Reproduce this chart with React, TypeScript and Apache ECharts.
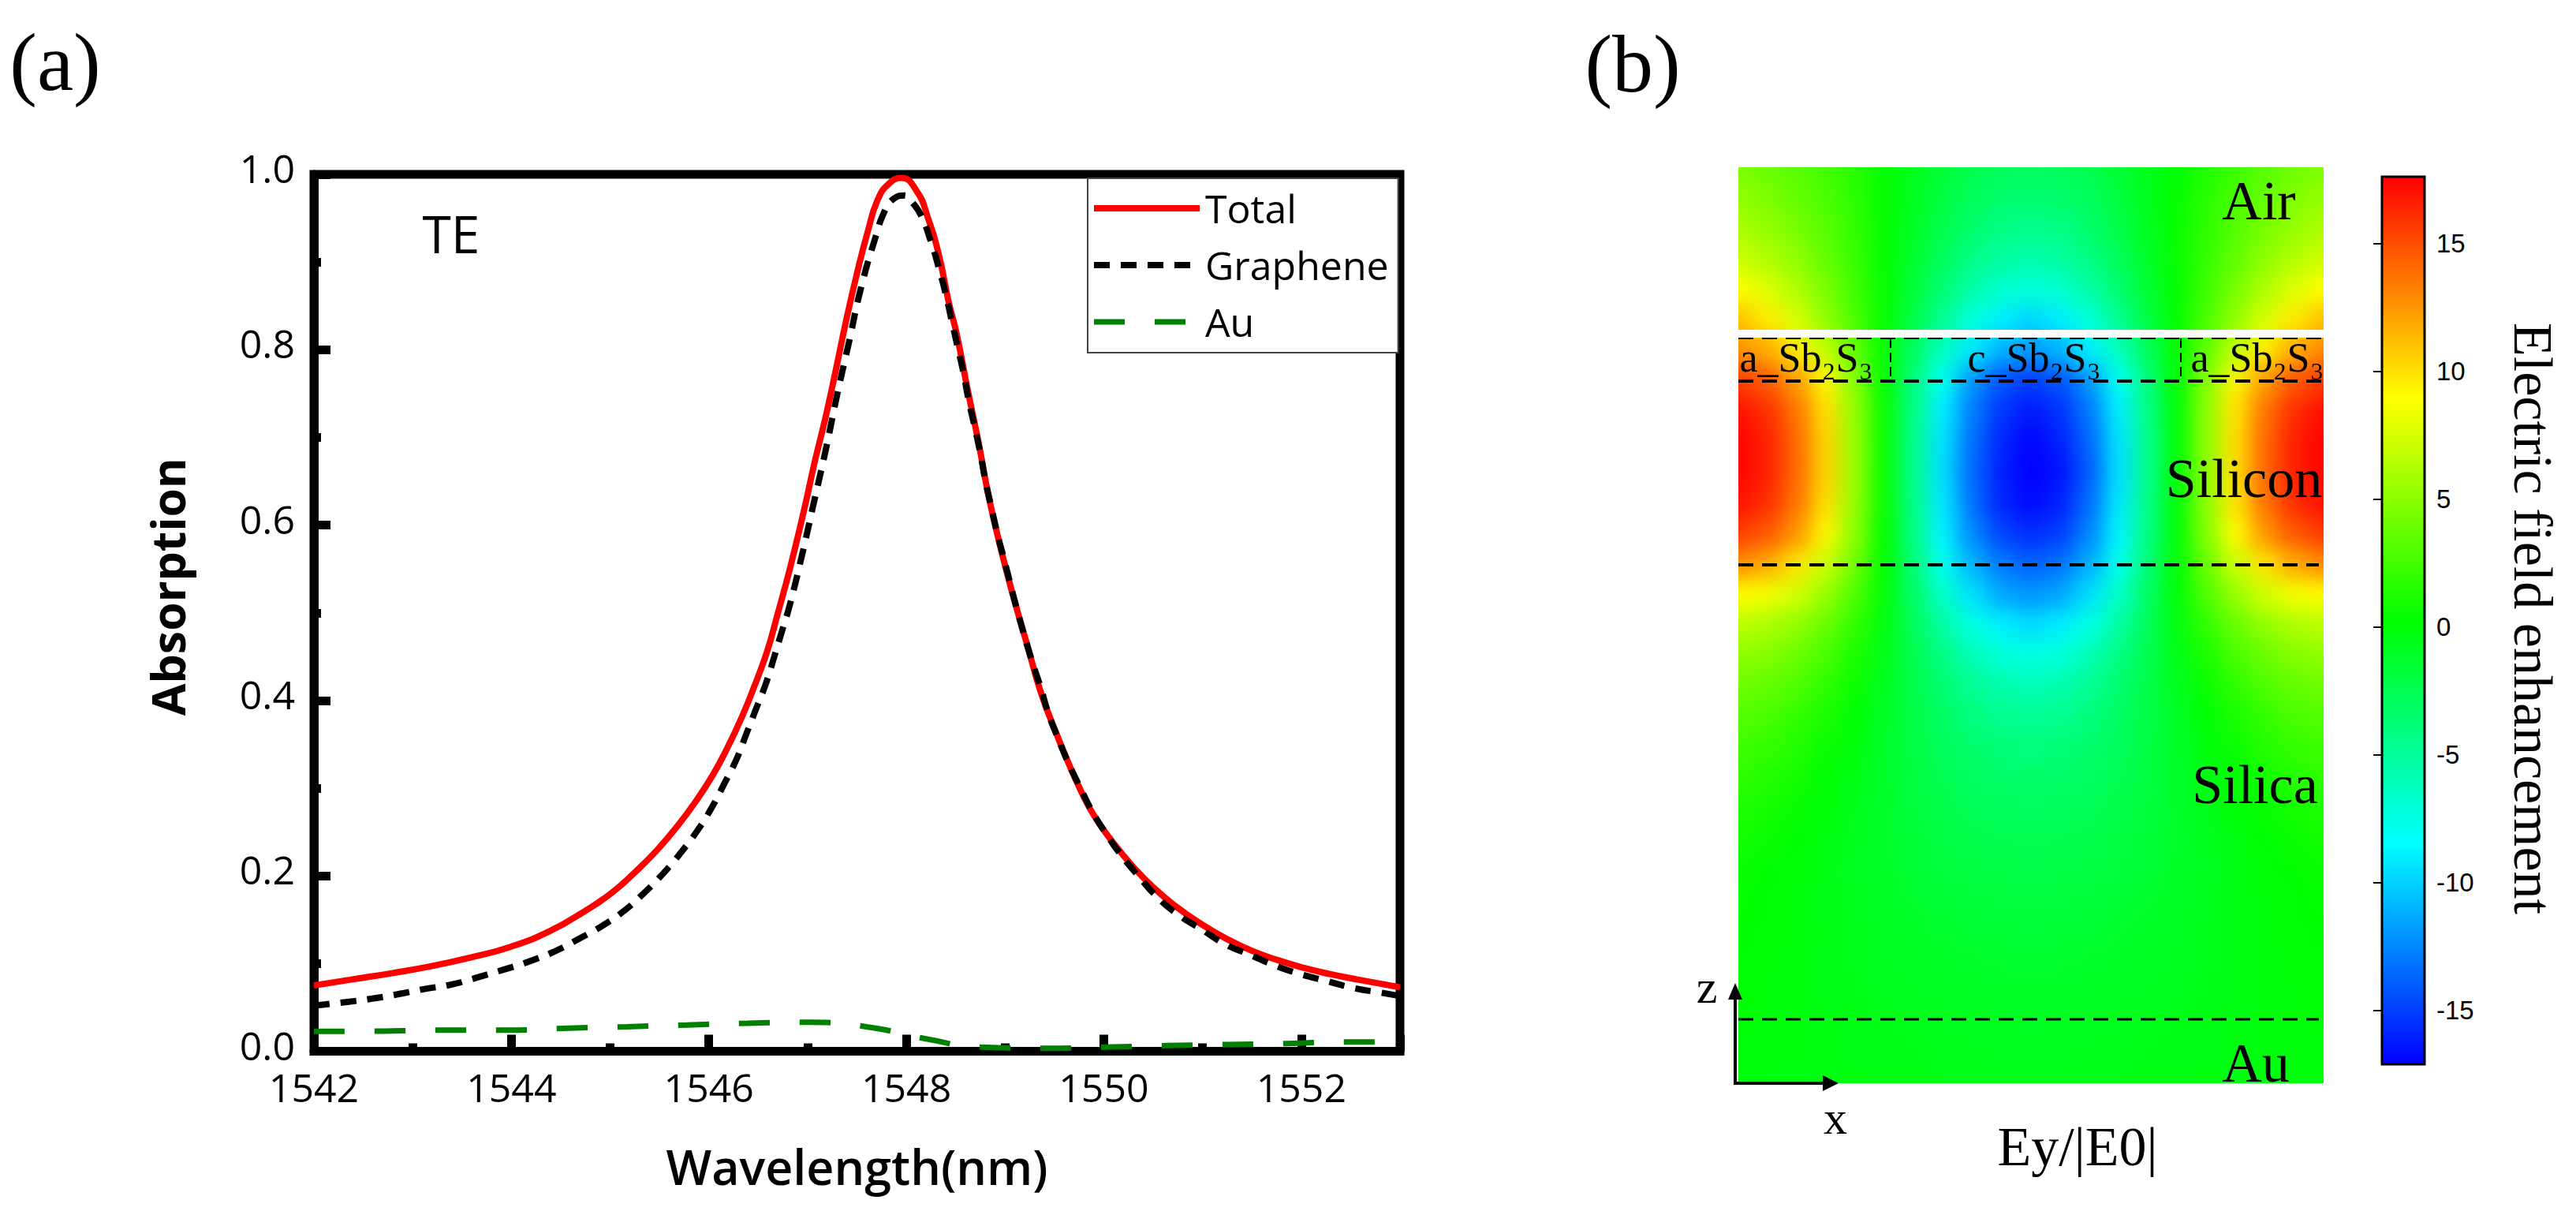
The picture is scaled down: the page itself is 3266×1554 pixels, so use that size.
import { useEffect, useRef } from "react";
import * as echarts from "echarts";

const totalNm = [
  1542, 1542.39, 1542.79, 1543.19, 1543.59, 1543.99, 1544.39, 1544.76, 1545.02, 1545.26, 1545.48,
  1545.69, 1545.88, 1546.04, 1546.17, 1546.33, 1546.46, 1546.59, 1546.7, 1546.82, 1546.97, 1547.07,
  1547.18, 1547.29, 1547.39, 1547.5, 1547.61, 1547.71, 1547.82, 1547.95, 1548.11, 1548.22, 1548.33,
  1548.43, 1548.51, 1548.62, 1548.73, 1548.83, 1548.94, 1549.03, 1549.13, 1549.23, 1549.36, 1549.5,
  1549.63, 1549.76, 1549.9, 1550.08, 1550.3, 1550.51, 1550.72, 1550.96, 1551.23, 1551.49, 1551.76,
  1552.03, 1552.29, 1552.56, 1553,
];
const totalAbs = [
  0.075, 0.082, 0.089, 0.097, 0.107, 0.119, 0.137, 0.161, 0.181, 0.205, 0.23,
  0.258, 0.287, 0.315, 0.342, 0.38, 0.416, 0.456, 0.5, 0.55, 0.62, 0.671,
  0.722, 0.779, 0.833, 0.887, 0.935, 0.971, 0.989, 0.996, 0.98, 0.95, 0.908,
  0.854, 0.818, 0.755, 0.695, 0.635, 0.581, 0.541, 0.5, 0.461, 0.41, 0.368,
  0.332, 0.299, 0.269, 0.24, 0.21, 0.186, 0.166, 0.147, 0.129, 0.115, 0.104,
  0.095, 0.088, 0.082, 0.073,
];
const grapheneNm = [
  1542, 1542.32, 1542.59, 1542.85, 1543.12, 1543.39, 1543.65, 1543.92, 1544.17, 1544.44, 1544.68,
  1544.92, 1545.14, 1545.34, 1545.54, 1545.72, 1545.88, 1546.03, 1546.16, 1546.28, 1546.38, 1546.48,
  1546.58, 1546.66, 1546.74, 1546.82, 1546.95, 1547.07, 1547.19, 1547.3, 1547.42, 1547.54, 1547.69,
  1547.78, 1547.87, 1547.98, 1548.06, 1548.15, 1548.25, 1548.33, 1548.4, 1548.46, 1548.52, 1548.58,
  1548.63, 1548.69, 1548.75, 1548.8, 1548.86, 1548.92, 1548.99, 1549.13, 1549.27, 1549.36, 1549.44,
  1549.54, 1549.64, 1549.76, 1549.88, 1550.03, 1550.18, 1550.35, 1550.54, 1550.75, 1550.99, 1551.23,
  1551.48, 1551.73, 1551.99, 1552.26, 1552.53, 1552.8, 1553,
];
const grapheneAbs = [
  0.052, 0.056, 0.06, 0.065, 0.071, 0.076, 0.084, 0.093, 0.102, 0.114, 0.128,
  0.143, 0.16, 0.18, 0.203, 0.227, 0.251, 0.278, 0.306, 0.333, 0.362, 0.391,
  0.42, 0.449, 0.479, 0.509, 0.569, 0.629, 0.689, 0.749, 0.809, 0.87, 0.929,
  0.958, 0.972, 0.976, 0.968, 0.953, 0.923, 0.893, 0.863, 0.833, 0.803, 0.773,
  0.743, 0.713, 0.682, 0.651, 0.621, 0.591, 0.561, 0.5, 0.446, 0.415, 0.385,
  0.356, 0.329, 0.301, 0.274, 0.247, 0.223, 0.2, 0.176, 0.156, 0.139, 0.122,
  0.11, 0.098, 0.088, 0.08, 0.072, 0.067, 0.063,
];
const auNm = [
  1542, 1542.7, 1543.35, 1543.96, 1544.58, 1545.17, 1545.78, 1546.39, 1547.02, 1547.61, 1548.2,
  1548.75, 1549.42, 1550.01, 1550.64, 1551.26, 1551.86, 1552.46, 1553,
];
const auAbs = [
  0.0227, 0.023, 0.0241, 0.0241, 0.0263, 0.028, 0.03, 0.032, 0.033, 0.0277, 0.0142,
  0.0047, 0.0034, 0.0047, 0.0065, 0.0077, 0.0088, 0.0106, 0.0103,
];

const xTicks = [1542, 1544, 1546, 1548, 1550, 1552];
const colorbarTicks = [-15, -10, -5, 0, 5, 10, 15];
const rainbow = ["#0000ff", "#00ffff", "#00ff00", "#ffff00", "#ff0000"];
const fieldMin = -17.1;
const fieldMax = 17.6;

// Ey/|E0|, top row first, left column first
const fieldRows = [
  [4.5, 3.9, 3.2, 2.5, 1.5, 0.4, -0.7, -1.6, -2.3, -2.8, -3, -2.8, -2.3, -1.5, -0.6, 0.3, 1.3, 2.3, 3.2, 4, 4.6],
  [5.2, 4.5, 3.7, 2.8, 1.7, 0.4, -0.8, -1.9, -2.8, -3.4, -3.6, -3.4, -2.8, -1.9, -0.7, 0.4, 1.6, 2.7, 3.7, 4.6, 5.3],
  [6, 5.3, 4.3, 3.2, 1.9, 0.4, -1, -2.3, -3.4, -4.2, -4.5, -4.2, -3.4, -2.2, -0.8, 0.5, 1.8, 3.1, 4.3, 5.3, 6.1],
  [7.2, 6.3, 5.1, 3.7, 2.1, 0.4, -1.3, -2.9, -4.3, -5.2, -5.6, -5.2, -4.2, -2.8, -1.1, 0.5, 2, 3.6, 5, 6.3, 7.3],
  [8.8, 7.8, 6.2, 4.4, 2.4, 0.4, -1.7, -3.7, -5.5, -6.7, -7.2, -6.7, -5.4, -3.6, -1.5, 0.4, 2.4, 4.3, 6.2, 7.8, 8.9],
  [11, 9.6, 7.6, 5.2, 2.8, 0.4, -2.2, -4.8, -7.2, -9, -9.8, -9, -7.1, -4.7, -2, 0.4, 2.8, 5.2, 7.6, 9.6, 11.1],
  [12.8, 11.8, 9.5, 6.8, 3.5, 0.4, -3, -6.3, -9.2, -11, -12, -11, -9, -6.2, -2.9, 0.3, 3.5, 6.8, 9.5, 11.8, 12.9],
  [15.5, 14.5, 12.3, 9.2, 4.8, 0.4, -4, -8, -12, -14.3, -15, -14.3, -12, -8.2, -4, 0.2, 4.7, 9.2, 12.3, 14.6, 15.6],
  [17, 16, 13.6, 10, 5.2, 0.5, -4.3, -9, -12.8, -15.2, -16.3, -15.4, -13, -9, -4.3, 0, 5, 9.8, 13.6, 16, 17.1],
  [17.5, 16.5, 14, 10.4, 5.4, 0.5, -4.5, -9.4, -13.3, -15.8, -17, -16, -13.6, -9.4, -4.5, 0, 5, 10, 14, 16.5, 17.5],
  [17.5, 16.5, 14, 10.5, 5.5, 0.5, -4.5, -9.5, -13.5, -16, -17.2, -16.5, -14, -9.5, -4.5, 0, 5, 10, 14, 16.5, 17.5],
  [17, 16, 13.6, 10, 5.3, 0.5, -4.4, -9.2, -13.2, -15.8, -16.8, -16, -13.4, -9.2, -4.4, 0, 5, 9.8, 13.6, 16, 17],
  [15.5, 14.6, 12.5, 9.2, 4.9, 0.4, -4.2, -8.8, -12.4, -14.8, -15.6, -15, -12.6, -8.8, -4.2, 0, 4.7, 9, 12.5, 14.6, 15.6],
  [12.8, 11.8, 9.8, 7.2, 4, 0.3, -3.8, -7.8, -11, -13, -13.8, -13.2, -11.2, -7.8, -3.8, 0, 3.8, 7.2, 9.9, 11.8, 12.9],
  [9, 8.5, 7.4, 5.4, 2.9, 0, -3.2, -6.6, -9.4, -11.4, -12, -11.5, -9.5, -6.6, -3.2, 0, 2.9, 5.4, 7.4, 8.5, 9],
  [6.6, 6.1, 5.2, 3.8, 1.9, -0.2, -2.8, -5.3, -7.4, -8.9, -9.6, -9, -7.5, -5.3, -2.8, -0.2, 1.9, 3.8, 5.2, 6.1, 6.6],
  [5.1, 4.7, 3.9, 2.7, 1.1, -0.5, -2.4, -4.2, -5.9, -7, -7.5, -7.1, -5.9, -4.2, -2.4, -0.5, 1.1, 2.7, 3.9, 4.7, 5.1],
  [4, 3.6, 2.9, 1.8, 0.6, -0.8, -2.2, -3.6, -4.8, -5.6, -5.9, -5.6, -4.8, -3.6, -2.2, -0.8, 0.6, 1.8, 2.9, 3.6, 4],
  [3.1, 2.7, 2, 1.1, 0.1, -1, -2.1, -3.1, -4, -4.6, -4.8, -4.6, -4, -3.1, -2.1, -1, 0.1, 1.1, 2, 2.7, 3.1],
  [2.4, 2, 1.4, 0.6, -0.2, -1.1, -2, -2.8, -3.4, -3.8, -4, -3.8, -3.4, -2.8, -2, -1.1, -0.2, 0.6, 1.4, 2, 2.4],
  [1.8, 1.4, 0.9, 0.2, -0.5, -1.2, -1.9, -2.5, -3, -3.3, -3.4, -3.3, -3, -2.5, -1.9, -1.2, -0.5, 0.2, 0.9, 1.4, 1.8],
  [1.3, 1, 0.5, 0, -0.6, -1.2, -1.8, -2.2, -2.6, -2.8, -2.9, -2.8, -2.6, -2.2, -1.8, -1.2, -0.6, 0, 0.5, 1, 1.3],
  [0.9, 0.6, 0.2, -0.3, -0.7, -1.2, -1.6, -2, -2.3, -2.4, -2.5, -2.4, -2.3, -2, -1.6, -1.2, -0.7, -0.3, 0.2, 0.6, 0.9],
  [0.6, 0.3, 0, -0.4, -0.8, -1.1, -1.5, -1.8, -2, -2.1, -2.2, -2.1, -2, -1.8, -1.5, -1.1, -0.8, -0.4, 0, 0.3, 0.6],
  [0.4, 0.2, -0.1, -0.4, -0.7, -1, -1.3, -1.5, -1.7, -1.8, -1.9, -1.8, -1.7, -1.5, -1.3, -1, -0.7, -0.4, -0.1, 0.2, 0.4],
  [0.3, 0.1, -0.1, -0.4, -0.6, -0.9, -1.1, -1.3, -1.4, -1.5, -1.6, -1.5, -1.4, -1.3, -1.1, -0.9, -0.6, -0.4, -0.1, 0.1, 0.3],
  [0.2, 0, -0.2, -0.4, -0.6, -0.8, -0.9, -1.1, -1.2, -1.3, -1.3, -1.3, -1.2, -1.1, -0.9, -0.8, -0.6, -0.4, -0.2, 0, 0.2],
  [0.1, -0.1, -0.2, -0.4, -0.5, -0.7, -0.8, -0.9, -1, -1.1, -1.1, -1.1, -1, -0.9, -0.8, -0.7, -0.5, -0.4, -0.2, -0.1, 0.1],
  [0, -0.1, -0.2, -0.3, -0.4, -0.5, -0.6, -0.7, -0.8, -0.8, -0.9, -0.8, -0.8, -0.7, -0.6, -0.5, -0.4, -0.3, -0.2, -0.1, 0],
  [-0.1, -0.2, -0.2, -0.3, -0.4, -0.4, -0.5, -0.6, -0.6, -0.7, -0.7, -0.7, -0.6, -0.6, -0.5, -0.4, -0.4, -0.3, -0.2, -0.2, -0.1],
  [-0.2, -0.2, -0.3, -0.3, -0.3, -0.4, -0.4, -0.5, -0.5, -0.5, -0.5, -0.5, -0.5, -0.5, -0.4, -0.4, -0.3, -0.3, -0.3, -0.2, -0.2],
];

const SANS = "Open Sans";
const SERIF = "Liberation Serif";

// plot rectangle of the field map in panel (b)
const MAP = { left: 2204, top: 212, width: 742, height: 1161 };
const COLS = fieldRows[0].length;
const ROWS = fieldRows.length;
const CELL_W = MAP.width / (COLS - 1);
const CELL_H = MAP.height / (ROWS - 1);

function zip(xs: number[], ys: number[]) {
  return xs.map((x, i) => [x, ys[i]]);
}

// y is the middle of the text's capitals
function serifText(text: string, x: number, y: number, fontSize = 70) {
  return {
    type: "text",
    x,
    y,
    z: 10,
    style: { text, fontFamily: SERIF, fontSize, fill: "#000", textAlign: "center", verticalAlign: "middle" },
  };
}

function dashLine(x1: number, y1: number, x2: number, y2: number, lineWidth = 3, lineDash = [19, 11]) {
  return {
    type: "line",
    z: 9,
    shape: { x1, y1, x2, y2 },
    style: { stroke: "#000", lineWidth, lineDash },
  };
}

function fieldOption() {
  // edge cells are repeated one step outside the clip so that the blur does not fade at the border
  const data: number[][] = [];
  for (let r = -1; r <= ROWS; r++) {
    for (let c = -1; c <= COLS; c++) {
      const row = fieldRows[Math.min(ROWS - 1, Math.max(0, r))];
      data.push([c + 1, r + 1, row[Math.min(COLS - 1, Math.max(0, c))]]);
    }
  }
  const cats = (n: number) => Array.from({ length: n }, (_, i) => String(i));
  return {
    animation: false,
    backgroundColor: "#00ff00",
    grid: { left: 0, right: 0, top: 0, bottom: 0 },
    xAxis: { type: "category", data: cats(COLS + 2), show: false },
    yAxis: { type: "category", data: cats(ROWS + 2), show: false, inverse: true },
    visualMap: {
      show: false,
      min: fieldMin,
      max: fieldMax,
      inRange: { color: rainbow },
    },
    series: [{ type: "heatmap", data, silent: true }],
  };
}

function mainOption() {
  const gradient = new echarts.graphic.LinearGradient(
    0,
    1,
    0,
    0,
    rainbow.map((color, i) => ({ offset: i / (rainbow.length - 1), color }))
  );

  return {
    animation: false,
    textStyle: { fontFamily: SANS },
    grid: [
      { left: 398, top: 221, width: 1377, height: 1111.5, show: true, borderWidth: 11, borderColor: "#000" },
      {
        left: 3020,
        top: 224,
        width: 54,
        height: 1125,
        show: true,
        backgroundColor: gradient,
        borderWidth: 3,
        borderColor: "#000",
      },
    ],
    xAxis: [
      {
        type: "value",
        gridIndex: 0,
        min: 1542,
        max: 1553,
        interval: 2,
        name: "Wavelength(nm)",
        nameLocation: "middle",
        nameGap: 115,
        nameTextStyle: { fontFamily: SANS, fontSize: 61, fontWeight: 600, color: "#000" },
        splitLine: { show: false },
        axisLine: { lineStyle: { color: "#000", width: 11 } },
        axisTick: { inside: true, length: 21, lineStyle: { color: "#000", width: 11 } },
        minorTick: { show: true, splitNumber: 2, length: 10, lineStyle: { color: "#000", width: 11 } },
        axisLabel: {
          margin: 20,
          fontFamily: SANS,
          fontSize: 50,
          color: "#000",
          showMaxLabel: false,
          formatter: (v: number) => (xTicks.includes(v) ? String(v) : ""),
        },
      },
      { type: "value", gridIndex: 1, min: 0, max: 1, show: false },
    ],
    yAxis: [
      {
        type: "value",
        gridIndex: 0,
        min: 0,
        max: 1,
        interval: 0.2,
        name: "Absorption",
        nameLocation: "middle",
        nameGap: 157,
        nameTextStyle: { fontFamily: SANS, fontSize: 59, fontWeight: 700, color: "#000", padding: [0, 0, 0, 66] },
        splitLine: { show: false },
        axisLine: { lineStyle: { color: "#000", width: 11 } },
        axisTick: { inside: true, length: 21, lineStyle: { color: "#000", width: 11 } },
        minorTick: { show: true, splitNumber: 2, length: 9, lineStyle: { color: "#000", width: 11 } },
        axisLabel: {
          margin: 24,
          fontFamily: SANS,
          fontSize: 50,
          color: "#000",
          // labels sit a little above their ticks
          verticalAlign: "bottom",
          lineHeight: 16,
          formatter: (v: number) => v.toFixed(1),
        },
      },
      {
        type: "value",
        gridIndex: 1,
        position: "right",
        min: fieldMin,
        max: fieldMax,
        splitLine: { show: false },
        axisLine: { show: false },
        axisTick: { inside: true, length: 11, customValues: colorbarTicks, lineStyle: { color: "#000", width: 2 } },
        axisLabel: {
          margin: 15,
          customValues: colorbarTicks,
          fontFamily: "Liberation Sans",
          fontSize: 33,
          color: "#000",
          align: "left",
        },
      },
    ],
    legend: {
      orient: "vertical",
      left: 1379,
      top: 226,
      padding: [12, 12, 13, 4],
      itemWidth: 134,
      itemHeight: 30,
      itemGap: 20,
      borderColor: "#444",
      borderWidth: 2,
      backgroundColor: "#fff",
      // the line series' legend icon always carries a marker; only the line should show
      itemStyle: { opacity: 0 },
      data: [
        { name: "Total", lineStyle: { width: 8 } },
        { name: "Graphene", lineStyle: { width: 8 } },
        { name: "Au", lineStyle: { width: 7 } },
      ],
      textStyle: { fontFamily: SANS, fontSize: 50, lineHeight: 52, color: "#000", padding: [0, 0, 0, 2] },
    },
    series: [
      {
        name: "Total",
        type: "line",
        xAxisIndex: 0,
        yAxisIndex: 0,
        data: zip(totalNm, totalAbs),
        smooth: 0.5,
        symbol: "none",
        clip: false,
        z: 3,
        lineStyle: { color: "#ff0000", width: 8 },
        itemStyle: { color: "#ff0000" },
      },
      {
        name: "Graphene",
        type: "line",
        xAxisIndex: 0,
        yAxisIndex: 0,
        data: zip(grapheneNm, grapheneAbs),
        smooth: 0.5,
        symbol: "none",
        z: 4,
        lineStyle: { color: "#000", width: 8, type: [20, 14] },
        itemStyle: { color: "#000" },
      },
      {
        name: "Au",
        type: "line",
        xAxisIndex: 0,
        yAxisIndex: 0,
        data: zip(auNm, auAbs),
        smooth: 0.5,
        symbol: "none",
        clip: false,
        z: 4,
        lineStyle: { color: "#008000", width: 7, type: [39, 38] },
        itemStyle: { color: "#008000" },
      },
    ],
    graphic: {
      elements: [
        serifText("(a)", 70, 78, 104),
        serifText("(b)", 2070, 80, 104),
        {
          type: "text",
          x: 572,
          y: 295,
          style: { text: "TE", fontFamily: SANS, fontSize: 66, fill: "#000", textAlign: "center", verticalAlign: "middle" },
        },
        // white slit between air and the Sb2S3 layer
        {
          type: "rect",
          z: 8,
          shape: { x: MAP.left, y: 418, width: MAP.width, height: 10 },
          style: { fill: "#fff" },
        },
        dashLine(2204, 429, 2946, 429, 2),
        dashLine(2204, 483, 2946, 483, 4),
        dashLine(2204, 716, 2940, 716, 4),
        dashLine(2204, 1292, 2940, 1292, 3),
        dashLine(2397, 429, 2397, 483, 2, [12, 6]),
        dashLine(2765, 429, 2765, 483, 2, [12, 6]),
        serifText("Air", 2864, 254),
        serifText("a_Sb₂S₃", 2290, 453, 52),
        serifText("c_Sb₂S₃", 2579, 453, 52),
        serifText("a_Sb₂S₃", 2862, 453, 52),
        serifText("Silicon", 2845, 606),
        serifText("Silica", 2859, 994),
        serifText("Au", 2860, 1347),
        serifText("Ey/|E0|", 2634, 1453),
        serifText("z", 2164, 1251, 60),
        serifText("x", 2327, 1417, 60),
        {
          ...serifText("Electric field enhancement", 3211, 784),
          rotation: -Math.PI / 2,
        },
        // z and x direction arrows
        { type: "line", z: 9, shape: { x1: 2200, y1: 1373, x2: 2200, y2: 1260 }, style: { stroke: "#000", lineWidth: 4 } },
        { type: "line", z: 9, shape: { x1: 2198, y1: 1373, x2: 2318, y2: 1373 }, style: { stroke: "#000", lineWidth: 4 } },
        { type: "polygon", z: 9, shape: { points: [[2191, 1267], [2209, 1267], [2200, 1246]] }, style: { fill: "#000" } },
        { type: "polygon", z: 9, shape: { points: [[2311, 1363], [2311, 1383], [2331, 1373]] }, style: { fill: "#000" } },
      ],
    },
  };
}

export default function App() {
  const fieldRef = useRef<HTMLDivElement>(null);
  const mainRef = useRef<HTMLDivElement>(null);

  useEffect(() => {
    const field = echarts.init(fieldRef.current, null, { renderer: "svg" });
    const main = echarts.init(mainRef.current, null, { renderer: "svg" });
    field.setOption(fieldOption());
    main.setOption(mainOption());
    return () => {
      field.dispose();
      main.dispose();
    };
  }, []);

  return (
    <div style={{ position: "fixed", left: 0, top: 0, width: 3266, height: 1554, background: "#fff", overflow: "hidden" }}>
      <div style={{ position: "absolute", overflow: "hidden", ...MAP }}>
        <div
          ref={fieldRef}
          style={{
            position: "absolute",
            left: -1.5 * CELL_W,
            top: -1.5 * CELL_H,
            width: MAP.width + 3 * CELL_W,
            height: MAP.height + 3 * CELL_H,
            filter: "blur(13px)",
          }}
        />
      </div>
      <div ref={mainRef} style={{ position: "absolute", left: 0, top: 0, width: 3266, height: 1554 }} />
    </div>
  );
}
